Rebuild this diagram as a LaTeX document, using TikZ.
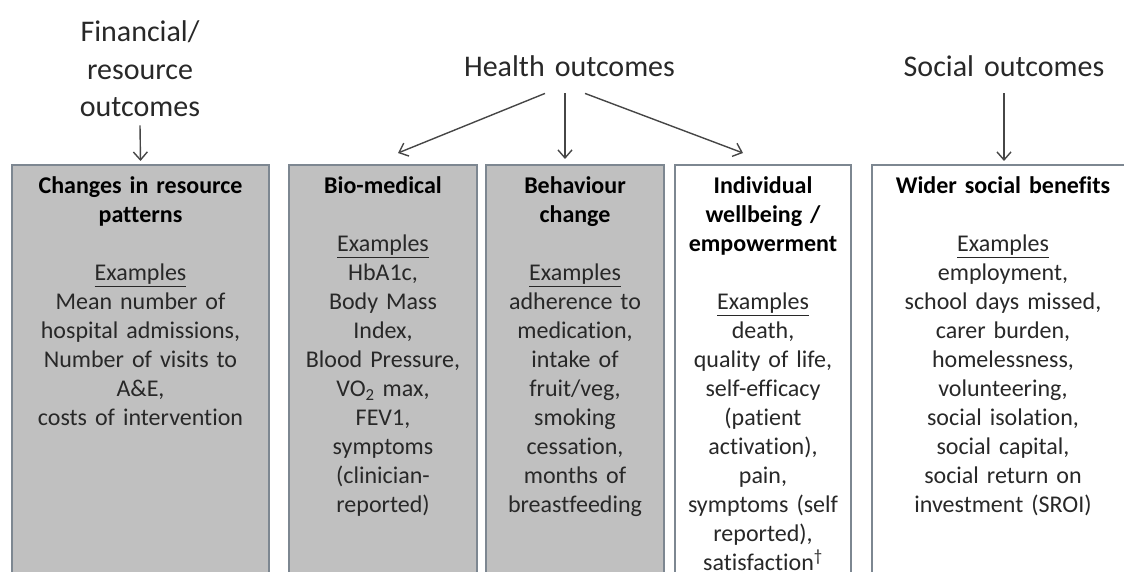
\documentclass[tikz,border=0pt]{standalone}
\usepackage{fontspec}
\setmainfont{Carlito}[Ligatures={NoCommon}]
\usepackage{xcolor}
\usepackage{tikz}
\usetikzlibrary{
	positioning,
	calc,
	arrows.meta
}

\definecolor{boxgrey}{RGB}{192,192,192}
\definecolor{boxline}{RGB}{125,135,145}
\definecolor{inkgrey}{RGB}{40,40,40}
\definecolor{arrowgrey}{RGB}{70,70,70}

\begin{document}
\begin{tikzpicture}[
	x=1pt,y=1pt,
	c_box/.style={
		draw=boxline,
		fill=white,
		line width=1.6pt,
		anchor=north,
		minimum height=430pt,
		inner sep=0pt
	},
	c_greybox/.style={
		c_box,
		fill=boxgrey
	},
	c_head/.style={
		inkgrey,
		font=\fontsize{30}{37.5}\selectfont,
		align=center,
		anchor=base,
		inner sep=0pt
	},
	c_body/.style={
		inkgrey,
		font=\fontsize{24}{29}\selectfont,
		align=center,
		anchor=base,
		inner sep=0pt
	},
	c_arrow/.style={
		draw=arrowgrey,
		line width=1.4pt,
		-{Straight Barb[length=8pt,width=14pt,line width=1.4pt]}
	}
	]
			
			\useasboundingbox (0,0) rectangle (1124,571);
			\clip (0,0) rectangle (1124,571);
			
			% =========================================================================
			% HEADINGS
			% =========================================================================
			
			\node[c_head,text width=170pt] (fin) at (140,529)
			{Financial/\\resource\\outcomes};
			
			\node[c_head,text width=240pt] (health) at (569.5,494)
			{Health outcomes};
			
			\node[c_head,text width=240pt] (social) at (1004,494)
			{Social outcomes};
			
			% =========================================================================
			% BOXES
			% =========================================================================
			
			\node[c_greybox,minimum width=257pt] (res) at (140.5,407) {};
			\node[c_greybox,minimum width=188pt] (bio) at (383,407) {};
			\node[c_greybox,minimum width=178pt] (beh) at (575,407) {};
			\node[c_box,minimum width=176pt] (wb) at (763,407) {};
			\node[c_box,minimum width=300pt] (wsb) at (1022,407) {};
			
			% Resource patterns
			\node[c_body,text width=250pt] (res_txt) at ([yshift=-30pt]res.north)
			{\textbf{\color{black}Changes in resource}\\
				\textbf{\color{black}patterns}\\[29pt]
				\underline{Examples}\\
				Mean number of\\
				hospital admissions,\\
				Number of visits to\\
				A\&E,\\
				costs of intervention};
			
			% Bio-medical
			\node[c_body,text width=184pt] (bio_txt) at ([yshift=-30pt]bio.north)
			{\textbf{\color{black}Bio-medical}\\[29pt]
				\underline{Examples}\\
				HbA1c,\\
				Body Mass\\
				Index,\\
				Blood Pressure,\\
				VO\textsubscript{2} max,\\
				FEV1,\\
				symptoms\\
				(clinician-\\
				reported)};
			
			% Behaviour change
			\node[c_body,text width=174pt] (beh_txt) at ([yshift=-30pt]beh.north)
			{\textbf{\color{black}Behaviour}\\
				\textbf{\color{black}change}\\[29pt]
				\underline{Examples}\\
				adherence to\\
				medication,\\
				intake of\\
				fruit/veg,\\
				smoking\\
				cessation,\\
				months of\\
				breastfeeding};
			
			% Individual wellbeing
			\node[c_body,text width=172pt] (wb_txt) at ([yshift=-30pt]wb.north)
			{\textbf{\color{black}Individual}\\
				\textbf{\color{black}wellbeing /}\\
				\textbf{\color{black}empowerment}\\[29pt]
				\underline{Examples}\\
				death,\\
				quality of life,\\
				self-efficacy\\
				(patient\\
				activation),\\
				pain,\\
				symptoms (self\\
				reported),\\
				satisfaction\textsuperscript{\textdagger}};
			
			% Wider social benefits
			\node[c_body,text width=250pt] (wsb_txt) at ([xshift=-19pt,yshift=-30pt]wsb.north)
			{\textbf{\color{black}Wider social benefits}\\[29pt]
				\underline{Examples}\\
				employment,\\
				school days missed,\\
				carer burden,\\
				homelessness,\\
				volunteering,\\
				social isolation,\\
				social capital,\\
				social return on\\
				investment (SROI)};
			
			% =========================================================================
			% ARROWS
			% =========================================================================
			
			\coordinate (h_left) at ([xshift=-24.5pt,yshift=-16pt]health.south);
			\coordinate (h_mid) at ([xshift=-4.5pt,yshift=-16pt]health.south);
			\coordinate (h_right) at ([xshift=15.5pt,yshift=-16pt]health.south);
			
			\draw[c_arrow] ([yshift=-8pt]fin.south) -- ([yshift=3pt]res.north);
			
			\draw[c_arrow] (h_left) -- ([xshift=15pt,yshift=11pt]bio.north);
			\draw[c_arrow] (h_mid) -- ([yshift=5pt]h_mid |- beh.north);
			\draw[c_arrow] (h_right) -- ([xshift=-20pt,yshift=11pt]wb.north);
			
			\draw[c_arrow] ([yshift=-16pt]social.south) -- ([yshift=3pt]social.south |- wsb.north);
			
		\end{tikzpicture}
\end{document}
